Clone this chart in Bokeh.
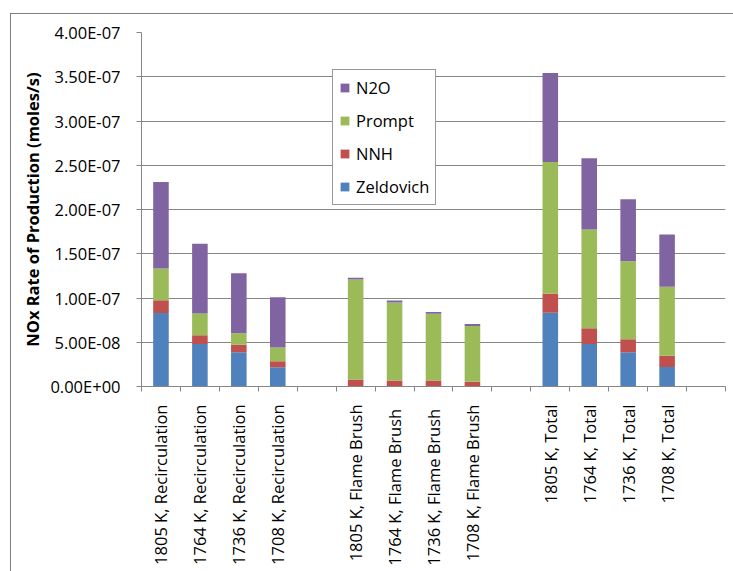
import numpy as np
from bokeh.plotting import figure
from bokeh.models import (ColumnDataSource, Range1d, FixedTicker, CustomJSTickFormatter,
                          Legend, LegendItem)
from bokeh.embed import file_html
from bokeh.resources import INLINE

categories = ["1805 K, Recirculation", "1764 K, Recirculation", "1736 K, Recirculation",
              "1708 K, Recirculation", "",
              "1805 K, Flame Brush", "1764 K,  Flame Brush", "1736 K,  Flame Brush",
              "1708 K, Flame Brush", "",
              "1805 K, Total", "1764 K, Total", "1736 K, Total", "1708 K, Total", ""]
zeldovich = [8.30e-8, 4.80e-8, 3.87e-8, 2.18e-8, 0,
             0.02e-8, 0.01e-8, 0.01e-8, 0.01e-8, 0,
             8.33e-8, 4.80e-8, 3.86e-8, 2.20e-8, 0]
nnh = [1.45e-8, 1.00e-8, 0.84e-8, 0.68e-8, 0,
       0.77e-8, 0.68e-8, 0.66e-8, 0.54e-8, 0,
       2.14e-8, 1.77e-8, 1.47e-8, 1.28e-8, 0]
prompt = [3.57e-8, 2.45e-8, 1.31e-8, 1.54e-8, 0,
          11.29e-8, 8.80e-8, 7.56e-8, 6.29e-8, 0,
          14.90e-8, 11.17e-8, 8.83e-8, 7.78e-8, 0]
n2o = [9.80e-8, 7.87e-8, 6.77e-8, 5.68e-8, 0,
       0.22e-8, 0.23e-8, 0.19e-8, 0.22e-8, 0,
       10.05e-8, 8.05e-8, 7.00e-8, 5.92e-8, 0]
series_names = ["Zeldovich", "NNH", "Prompt", "N2O"]
series_colors = ["#4F81BD", "#C0504D", "#9BBB59", "#8064A2"]
y_ticks = [0, 5e-8, 1e-7, 1.5e-7, 2e-7, 2.5e-7, 3e-7, 3.5e-7, 4e-7]

FONT = "Open Sans"
GRAY = "#868686"

x = [i + 0.5 for i in range(len(categories))]
src = ColumnDataSource(dict(x=x, Zeldovich=zeldovich, NNH=nnh, Prompt=prompt, N2O=n2o))

p = figure(width=733, height=571, output_backend="svg", toolbar_location=None,
           x_range=Range1d(0, len(categories)), y_range=Range1d(0, 4e-7),
           min_border_left=141, min_border_right=8, min_border_top=32, min_border_bottom=185)
p.outline_line_color = None
p.background_fill_color = "white"
p.border_fill_color = None
# chart-area border (only its left and top edges fall inside the picture)
p.styles = {
    "background-color": "white",
    "background-image": "linear-gradient(#7f7f7f, #7f7f7f), linear-gradient(#7f7f7f, #7f7f7f)",
    "background-size": "1px 100%, 100% 1px",
    "background-position": "10px 13px, 10px 13px",
    "background-repeat": "no-repeat",
}

renderers = p.vbar_stack(series_names, x="x", width=0.4, color=series_colors,
                         line_color=None, source=src)

# Y axis
p.yaxis.ticker = FixedTicker(ticks=y_ticks)
p.yaxis.formatter = CustomJSTickFormatter(code="""
const s = tick.toExponential(2).split('e');
const e = parseInt(s[1]);
const a = Math.abs(e);
return s[0] + 'E' + (e < 0 ? '-' : '+') + (a < 10 ? '0' : '') + a;
""")
p.yaxis.axis_label = "NOx Rate of Production (moles/s)"
p.yaxis.axis_label_text_font = FONT
p.yaxis.axis_label_text_font_style = "bold"
p.yaxis.axis_label_text_font_size = "16.5px"
p.yaxis.axis_label_text_color = "black"
p.yaxis.axis_label_standoff = 3
p.yaxis.major_label_text_font = FONT
p.yaxis.major_label_text_font_size = "16.5px"
p.yaxis.major_label_text_color = "black"
p.yaxis.major_label_standoff = 16
p.yaxis.major_tick_out = 5
p.yaxis.major_tick_in = 0
p.yaxis.minor_tick_line_color = None
p.yaxis.axis_line_color = GRAY
p.yaxis.major_tick_line_color = GRAY

# X axis: labels at bar centres, tick marks at category boundaries
p.xaxis.ticker = FixedTicker(ticks=[xx for xx, c in zip(x, categories) if c],
                             minor_ticks=list(range(len(categories) + 1)))
p.xaxis.formatter = CustomJSTickFormatter(args=dict(labels=categories),
                                          code="return labels[Math.floor(tick)] || '';")
p.xaxis.major_label_orientation = np.pi / 2
p.xaxis.major_label_text_font = FONT
p.xaxis.major_label_text_font_size = "16.5px"
p.xaxis.major_label_text_color = "black"
p.xaxis.major_label_standoff = 13
p.xaxis.major_tick_out = 0
p.xaxis.major_tick_in = 0
p.xaxis.major_tick_line_color = None
p.xaxis.minor_tick_out = 5
p.xaxis.minor_tick_in = 0
p.xaxis.minor_tick_line_color = GRAY
p.xaxis.axis_line_color = GRAY

p.xgrid.visible = False
p.ygrid.ticker = FixedTicker(ticks=y_ticks)
p.ygrid.grid_line_color = GRAY
p.ygrid.grid_line_width = 1

items = [LegendItem(label=series_names[i], renderers=[renderers[i]]) for i in [3, 2, 1, 0]]
legend = Legend(items=items, location=(191, 181), orientation="vertical")
legend.label_text_font = FONT
legend.label_text_font_size = "16.5px"
legend.label_text_color = "black"
legend.glyph_width = 11
legend.glyph_height = 11
legend.label_standoff = 6
legend.spacing = 10
legend.padding = 6
legend.margin = 0
legend.border_line_color = "#333333"
legend.border_line_width = 1
legend.background_fill_color = "white"
legend.background_fill_alpha = 1
p.add_layout(legend)

open("out.html", "w").write(file_html(p, INLINE))
